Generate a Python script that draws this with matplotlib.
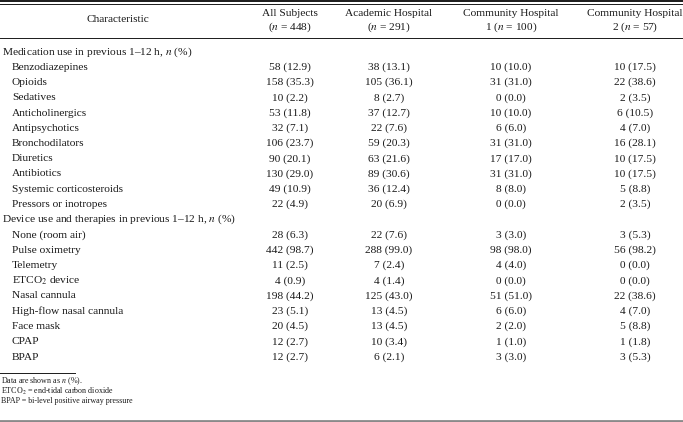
import matplotlib
matplotlib.use("Agg")
import matplotlib.pyplot as plt

plt.rcParams['font.family'] = ['Liberation Serif', 'DejaVu Serif']
plt.rcParams['mathtext.fontset'] = 'stix'

# column headers
headers = ["All Subjects\n($n$ = 448)", "Academic Hospital\n($n$ = 291)",
           "Community Hospital\n1 ($n$ = 100)", "Community Hospital\n2 ($n$ = 57)"]

# section 1: medication use
med_labels = ["Benzodiazepines", "Opioids", "Sedatives", "Anticholinergics",
              "Antipsychotics", "Bronchodilators", "Diuretics", "Antibiotics",
              "Systemic corticosteroids", "Pressors or inotropes"]
med_all = [(58, 12.9), (158, 35.3), (10, 2.2), (53, 11.8), (32, 7.1),
           (106, 23.7), (90, 20.1), (130, 29.0), (49, 10.9), (22, 4.9)]
med_acad = [(38, 13.1), (105, 36.1), (8, 2.7), (37, 12.7), (22, 7.6),
            (59, 20.3), (63, 21.6), (89, 30.6), (36, 12.4), (20, 6.9)]
med_comm1 = [(10, 10.0), (31, 31.0), (0, 0.0), (10, 10.0), (6, 6.0),
             (31, 31.0), (17, 17.0), (31, 31.0), (8, 8.0), (0, 0.0)]
med_comm2 = [(10, 17.5), (22, 38.6), (2, 3.5), (6, 10.5), (4, 7.0),
             (16, 28.1), (10, 17.5), (10, 17.5), (5, 8.8), (2, 3.5)]

# section 2: devices / therapies
dev_labels = ["None (room air)", "Pulse oximetry", "Telemetry", "ETCO$_2$ device",
              "Nasal cannula", "High-flow nasal cannula", "Face mask", "CPAP", "BPAP"]
dev_all = [(28, 6.3), (442, 98.7), (11, 2.5), (4, 0.9), (198, 44.2),
           (23, 5.1), (20, 4.5), (12, 2.7), (12, 2.7)]
dev_acad = [(22, 7.6), (288, 99.0), (7, 2.4), (4, 1.4), (125, 43.0),
            (13, 4.5), (13, 4.5), (10, 3.4), (6, 2.1)]
dev_comm1 = [(3, 3.0), (98, 98.0), (4, 4.0), (0, 0.0), (51, 51.0),
             (6, 6.0), (2, 2.0), (1, 1.0), (3, 3.0)]
dev_comm2 = [(3, 5.3), (56, 98.2), (0, 0.0), (0, 0.0), (22, 38.6),
             (4, 7.0), (5, 8.8), (1, 1.8), (3, 5.3)]

sections = [
    ("Medication use in previous 1\u201312 h, $n$ (%)", med_labels,
     [med_all, med_acad, med_comm1, med_comm2]),
    ("Device use and therapies in previous 1\u201312 h, $n$ (%)", dev_labels,
     [dev_all, dev_acad, dev_comm1, dev_comm2]),
]

footnotes = ["Data are shown as $n$ (%).",
             "ETCO$_2$ = end-tidal carbon dioxide",
             "BPAP = bi-level positive airway pressure"]

W, H = 683, 422
fig = plt.figure(figsize=(W / 100, H / 100), dpi=100)
ax = fig.add_axes([0, 0, 1, 1])
ax.set_xlim(0, W)
ax.set_ylim(H, 0)
ax.axis('off')

txt = '#1a1a1a'
fs = 8.2
col_x = [290, 389, 511, 635]

# rules
ax.plot([0, W], [0.8, 0.8], color=txt, lw=1.4)
ax.plot([0, W], [3.6, 3.6], color=txt, lw=0.7)
ax.plot([0, W], [37.5, 37.5], color=txt, lw=0.7)
ax.plot([0, 75], [373, 373], color=txt, lw=0.7)
ax.plot([0, W], [420.5, 420.5], color='#8a8a8a', lw=2.0)

# header
ax.text(118, 20, "Characteristic", ha='center', va='center', fontsize=fs, color=txt)
for x, h in zip(col_x, headers):
    top, bottom = h.split("\n")
    ax.text(x, 13.5, top, ha='center', va='center', fontsize=fs, color=txt)
    ax.text(x, 27, bottom, ha='center', va='center', fontsize=fs, color=txt)

y = 52
step = 15.25
for title, labels, cols in sections:
    ax.text(2, y, title, ha='left', va='center', fontsize=fs, color=txt)
    y += step
    for i, lab in enumerate(labels):
        ax.text(12, y, lab, ha='left', va='center', fontsize=fs, color=txt)
        for x, col in zip(col_x, cols):
            n, p = col[i]
            ax.text(x, y, f"{n} ({p:.1f})", ha='center', va='center',
                    fontsize=fs, color=txt)
        y += step

fy = 381
for line in footnotes:
    ax.text(1, fy, line, ha='left', va='center', fontsize=5.8, color=txt)
    fy += 10

fig.savefig("out.png", dpi=100)
